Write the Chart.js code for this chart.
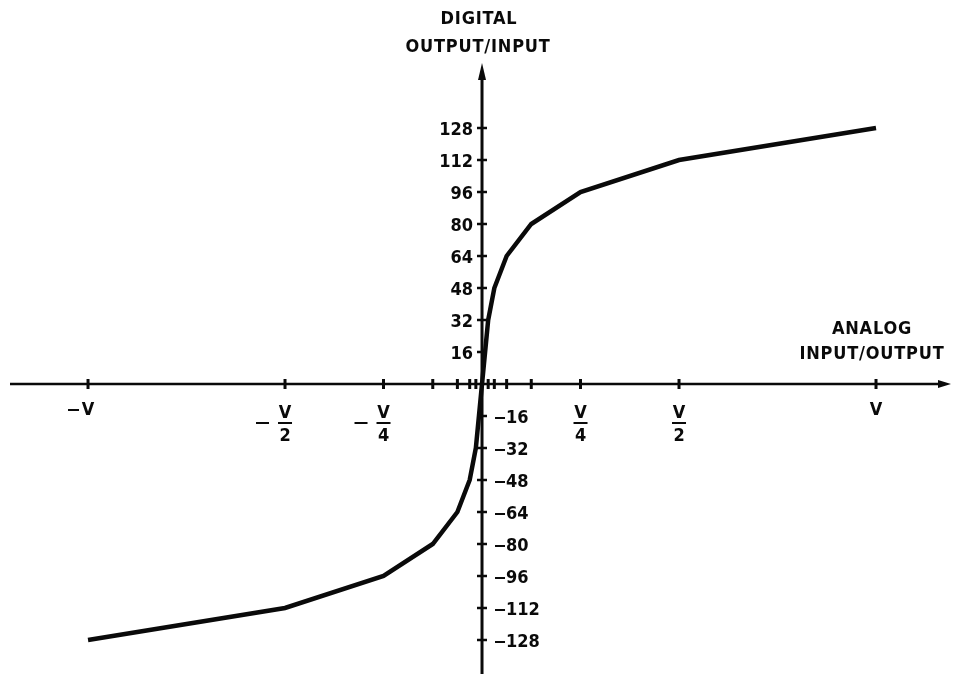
<!DOCTYPE html>
<html>
<head>
<meta charset="utf-8">
<script src="https://cdn.jsdelivr.net/npm/chart.js@4/dist/chart.umd.min.js"></script>
<style>
  html, body { margin: 0; padding: 0; background: #fff; }
  #wrap { width: 953px; height: 674px; }
</style>
</head>
<body>
<div id="wrap"><canvas id="compandChart" width="953" height="674"></canvas></div>
<script>
// analog input as a fraction of full scale V
var analogInput = [-1, -0.5, -0.25, -0.125, -0.0625, -0.03125, -0.015625, -0.0078125, 0,
  0.0078125, 0.015625, 0.03125, 0.0625, 0.125, 0.25, 0.5, 1];
// digital code at each segment end
var digitalCode = [-128, -112, -96, -80, -64, -48, -32, -16, 0,
  16, 32, 48, 64, 80, 96, 112, 128];

// tick marks on the analog axis
var xTicks = [-1, -0.5, -0.25, -0.125, -0.0625, -0.03125, -0.015625,
  0.015625, 0.03125, 0.0625, 0.125, 0.25, 0.5, 1];
// labelled analog ticks and their denominators
var xLabelValues = [-1, -0.5, -0.25, 0.25, 0.5, 1];
var xLabelDenoms = ['', '2', '4', '4', '2', ''];
// ticks on the digital axis
var yTicks = [128, 112, 96, 80, 64, 48, 32, 16, -16, -32, -48, -64, -80, -96, -112, -128];

var INK = '#0a0a0a';
var FONT = 'bold 18px "Liberation Sans Narrow", "DejaVu Sans Condensed", sans-serif';

var points = analogInput.map(function(v, i) { return { x: v, y: digitalCode[i] }; });

// draws the crossing axes, ticks and labels from the chart's scales
var axesPlugin = {
  id: 'crossAxes',
  beforeDatasetsDraw: function(chart) {
    var ctx = chart.ctx;
    var xs = chart.scales.x, ys = chart.scales.y;
    var x0 = xs.getPixelForValue(0), y0 = ys.getPixelForValue(0);
    ctx.save();
    ctx.strokeStyle = INK;
    ctx.fillStyle = INK;

    // horizontal axis with arrow
    ctx.lineWidth = 2.5;
    ctx.beginPath();
    ctx.moveTo(10, y0);
    ctx.lineTo(940, y0);
    ctx.stroke();
    ctx.beginPath();
    ctx.moveTo(951, y0);
    ctx.lineTo(938, y0 - 4);
    ctx.lineTo(938, y0 + 4);
    ctx.closePath();
    ctx.fill();

    // vertical axis with arrow
    ctx.lineWidth = 3;
    ctx.beginPath();
    ctx.moveTo(x0, 674);
    ctx.lineTo(x0, 75);
    ctx.stroke();
    ctx.beginPath();
    ctx.moveTo(x0, 63);
    ctx.lineTo(x0 - 4, 80);
    ctx.lineTo(x0 + 4, 80);
    ctx.closePath();
    ctx.fill();

    // analog ticks
    ctx.lineWidth = 3;
    xTicks.forEach(function(v) {
      var px = xs.getPixelForValue(v);
      ctx.beginPath();
      ctx.moveTo(px, y0 - 5);
      ctx.lineTo(px, y0 + 5);
      ctx.stroke();
    });

    // digital ticks
    ctx.lineWidth = 2.5;
    yTicks.forEach(function(v) {
      var py = ys.getPixelForValue(v);
      ctx.beginPath();
      ctx.moveTo(x0 - 5, py);
      ctx.lineTo(x0 + 5, py);
      ctx.stroke();
    });

    ctx.font = FONT;
    ctx.textBaseline = 'middle';

    // digital tick labels: positive on the left, negative on the right
    yTicks.forEach(function(v) {
      var py = ys.getPixelForValue(v) + 2;
      if (v > 0) {
        ctx.textAlign = 'right';
        ctx.fillText(String(v), x0 - 9, py);
      } else {
        ctx.textAlign = 'left';
        ctx.fillRect(x0 + 13, py - 1, 10, 2);
        ctx.fillText(String(-v), x0 + 24, py);
      }
    });

    // analog tick labels as fractions of V
    xLabelValues.forEach(function(v, i) {
      var px = xs.getPixelForValue(v);
      var den = xLabelDenoms[i];
      ctx.textAlign = 'center';
      if (den) {
        ctx.fillText('V', px, y0 + 29);
        ctx.fillRect(px - 7, y0 + 38, 14, 2);
        ctx.fillText(den, px, y0 + 52);
        if (v < 0) ctx.fillRect(px - 29, y0 + 38, 13, 2);
      } else {
        ctx.fillText('V', px, y0 + 26);
        if (v < 0) ctx.fillRect(px - 20, y0 + 25, 11, 2);
      }
    });

    // axis titles
    ctx.textAlign = 'center';
    ctx.letterSpacing = '0.8px';
    ctx.fillText('DIGITAL', x0 - 3, 19);
    ctx.fillText('OUTPUT/INPUT', x0 - 4, 47);
    ctx.fillText('ANALOG', 872, 329);
    ctx.fillText('INPUT/OUTPUT', 872, 354);
    ctx.restore();
  }
};

new Chart(document.getElementById('compandChart'), {
  type: 'line',
  data: {
    datasets: [{
      data: points,
      borderColor: INK,
      borderWidth: 4.5,
      pointRadius: 0,
      tension: 0,
      fill: false
    }]
  },
  options: {
    responsive: false,
    animation: false,
    layout: { padding: 0 },
    plugins: { legend: { display: false }, tooltip: { enabled: false } },
    scales: {
      x: { type: 'linear', min: -1.2234, max: 1.1954, display: false },
      y: { type: 'linear', min: -145, max: 192, display: false }
    }
  },
  plugins: [axesPlugin]
});
</script>
</body>
</html>
